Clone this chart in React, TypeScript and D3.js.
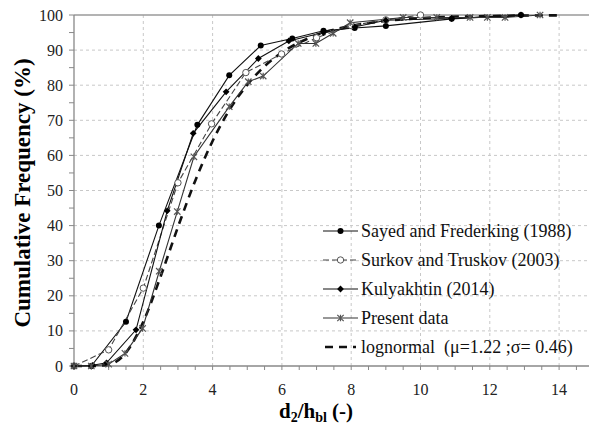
import React from 'react'
import * as d3 from 'd3'

// cumulative frequency curves
const sayedX = [0, 0.5, 1.5, 2.45, 3.56, 4.48, 5.39, 6.3, 7.2, 8.1, 9.0, 10.9, 12.9]
const sayedY = [0, 0, 12.6, 40, 68.7, 82.8, 91.3, 93.3, 95.5, 96.3, 96.9, 98.9, 100]

const surkovX = [0, 1, 2, 3, 3.97, 4.96, 5.99, 7, 8, 9, 10]
const surkovY = [0, 4.6, 22.2, 52.2, 69, 83.6, 88.9, 93.5, 97, 98.6, 100]

const kulyX = [0, 0.54, 0.94, 1.79, 2.69, 3.44, 4.39, 5.32, 6.2, 7.2, 8.1, 9.0, 10.9, 12.9]
const kulyY = [0, 0.2, 0.9, 10.3, 44.2, 66.3, 78.1, 87.6, 92.6, 95, 96.6, 98.5, 99, 100]

const presentX = [0, 0.5, 1, 1.47, 1.98, 2.46, 2.98, 3.46, 4.48, 5.03, 5.46, 6.47, 6.98, 7.48, 7.97, 9.5, 10.47, 11.43, 11.93, 12.44, 13.45]
const presentY = [0, 0, 0.5, 3.6, 10.7, 27, 44, 59.6, 73.9, 81, 82.6, 91.9, 91.9, 94.8, 97.8, 99.3, 99.3, 99.3, 99.3, 99.3, 100]

const lognX = [0, 0.5, 1, 1.5, 2, 2.5, 3, 3.5, 4, 4.5, 5, 5.5, 6, 7, 8, 9, 10, 12, 14]
const lognY = [0, 0, 0.4, 3.8, 12.6, 25.5, 39.6, 52.8, 64.1, 73.2, 80.1, 85.4, 89.3, 94.3, 96.9, 98.3, 99.1, 99.7, 99.9]

const xTicks = [0, 2, 4, 6, 8, 10, 12, 14]
const yTicks = [0, 10, 20, 30, 40, 50, 60, 70, 80, 90, 100]

const legendLabels = [
  'Sayed and Frederking (1988)',
  'Surkov and Truskov (2003)',
  'Kulyakhtin (2014)',
  'Present data',
  'lognormal  (\u03bc=1.22 ;\u03c3= 0.46)',
]

const W = 589
const H = 427
const FONT = "'Liberation Serif'"

const x = d3.scaleLinear().domain([0, 15]).range([74, 593.75])
const y = d3.scaleLinear().domain([0, 100]).range([366, 15])

const zip = (xs: number[], ys: number[]) => xs.map((v, i) => [v, ys[i]] as [number, number])
const line = d3
  .line<[number, number]>()
  .x((d) => x(d[0]))
  .y((d) => y(d[1]))
const smooth = d3
  .line<[number, number]>()
  .x((d) => x(d[0]))
  .y((d) => y(d[1]))
  .curve(d3.curveMonotoneX)

const series = [
  { xs: sayedX, ys: sayedY, dash: undefined, color: '#111', marker: 'circle' },
  { xs: surkovX, ys: surkovY, dash: '6,3', color: '#444', marker: 'open' },
  { xs: kulyX, ys: kulyY, dash: undefined, color: '#111', marker: 'diamond' },
  { xs: presentX, ys: presentY, dash: undefined, color: '#333', marker: 'star' },
]

function Marker({ kind, cx, cy }: { kind: string; cx: number; cy: number }) {
  if (kind === 'circle') return <circle cx={cx} cy={cy} r={3} fill="#000" />
  if (kind === 'open')
    return <circle cx={cx} cy={cy} r={3.2} fill="#fff" stroke="#555" strokeWidth={1} />
  if (kind === 'diamond') {
    const s = 3.4
    return <path d={`M${cx},${cy - s}L${cx + s},${cy}L${cx},${cy + s}L${cx - s},${cy}Z`} fill="#000" />
  }
  const s = 3.2
  return (
    <path
      d={`M${cx - s},${cy - s}L${cx + s},${cy + s}M${cx - s},${cy + s}L${cx + s},${cy - s}M${cx},${cy - s}L${cx},${cy + s}`}
      stroke="#555"
      strokeWidth={1.2}
      fill="none"
    />
  )
}

const txt = (size: number, bold = false) => ({
  fontFamily: FONT,
  fontSize: `${size}px`,
  fontWeight: bold ? 'bold' : 'normal',
})

export default function App() {
  const rows = [231, 260, 289, 318, 347]
  const xMinor = d3.range(0, 15.01, 0.5)
  const yMinor = d3.range(0, 100.01, 5)

  return (
    <svg width={W} height={H} style={{ position: 'absolute', left: 0, top: 0, background: '#fff', display: 'block' }}>
      {/* grid */}
      {xTicks
        .filter((d) => d > 0)
        .map((d) => (
          <line key={'gx' + d} x1={x(d)} x2={x(d)} y1={y(0)} y2={y(100)} stroke="#c8c8c8" strokeDasharray="3,3" />
        ))}
      {yTicks
        .filter((d) => d > 0 && d < 100)
        .map((d) => (
          <line key={'gy' + d} x1={x(0)} x2={W} y1={y(d)} y2={y(d)} stroke="#c8c8c8" strokeDasharray="3,3" />
        ))}
      <line x1={x(0)} x2={W} y1={y(100)} y2={y(100)} stroke="#9a9a9a" strokeWidth={1.5} />

      {/* axes */}
      <line x1={x(0)} x2={W} y1={y(0)} y2={y(0)} stroke="#888" strokeWidth={1.3} />
      <line x1={x(0)} x2={x(0)} y1={y(0)} y2={y(100)} stroke="#888" strokeWidth={1.3} />
      {xMinor.map((d) => (
        <line key={'tx' + d} x1={x(d)} x2={x(d)} y1={y(0)} y2={y(0) + 4} stroke="#888" />
      ))}
      {yMinor.map((d) => (
        <line key={'ty' + d} x1={x(0) - 5} x2={x(0)} y1={y(d)} y2={y(d)} stroke="#888" />
      ))}
      {xTicks.map((d) => (
        <text key={'lx' + d} x={x(d)} y={395} textAnchor="middle" fill="#222" style={txt(16)}>
          {d}
        </text>
      ))}
      {yTicks.map((d) => (
        <text key={'ly' + d} x={63} y={y(d) + 5.5} textAnchor="end" fill="#222" style={txt(16)}>
          {d}
        </text>
      ))}

      {/* titles */}
      <text transform={`translate(30,193) rotate(-90)`} textAnchor="middle" style={txt(23, true)}>
        Cumulative Frequency (%)
      </text>
      <text x={316} y={418} textAnchor="middle" style={txt(21, true)}>
        d
        <tspan style={{ fontSize: '14px' }} dy={4}>
          2
        </tspan>
        <tspan dy={-4}>/h</tspan>
        <tspan style={{ fontSize: '14px' }} dy={4}>
          bl
        </tspan>
        <tspan dy={-4}> (-)</tspan>
      </text>

      {/* lognormal fit */}
      <path
        d={smooth(zip(lognX, lognY)) || ''}
        fill="none"
        stroke="#111"
        strokeWidth={2.6}
        strokeDasharray="8,6"
      />

      {series.map((s, i) => (
        <path
          key={'s' + i}
          d={line(zip(s.xs, s.ys)) || ''}
          fill="none"
          stroke={s.color}
          strokeWidth={1.1}
          strokeDasharray={s.dash}
        />
      ))}
      {series.map((s, i) => (
        <g key={'m' + i}>
          {s.xs.map((v, j) => (
            <Marker key={j} kind={s.marker} cx={x(v)} cy={y(s.ys[j])} />
          ))}
        </g>
      ))}

      {/* legend */}
      {series.map((s, i) => (
        <g key={'lg' + i}>
          <line
            x1={323}
            x2={358}
            y1={rows[i]}
            y2={rows[i]}
            stroke={s.color}
            strokeWidth={1.1}
            strokeDasharray={s.dash}
          />
          <Marker kind={s.marker} cx={340.5} cy={rows[i]} />
        </g>
      ))}
      <line
        x1={323}
        x2={356}
        y1={rows[4]}
        y2={rows[4]}
        stroke="#111"
        strokeWidth={2.6}
        strokeDasharray="8,6"
        strokeDashoffset={-2}
      />
      {legendLabels.map((d, i) => (
        <text key={'lt' + i} x={361} y={rows[i] + 6} fill="#111" style={{ ...txt(18), whiteSpace: 'pre' }}>
          {d}
        </text>
      ))}
    </svg>
  )
}
